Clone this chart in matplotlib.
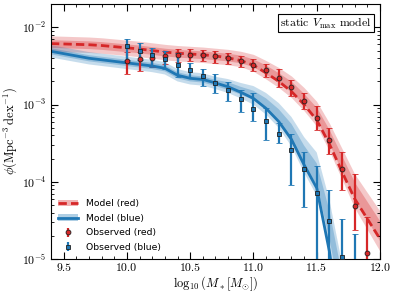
import matplotlib
matplotlib.use('Agg')
import matplotlib.pyplot as plt
import numpy as np
from matplotlib.patches import Patch
from matplotlib.lines import Line2D

plt.rcParams['font.family'] = 'serif'
plt.rcParams['font.serif'] = ['cmr10']
plt.rcParams['mathtext.fontset'] = 'cm'
plt.rcParams['axes.formatter.use_mathtext'] = True

# model grid (log10 M*)
m_grid = [9.4, 9.5, 9.6, 9.7, 9.8, 9.9, 10.0, 10.1, 10.2, 10.3, 10.4, 10.5, 10.6,
          10.7, 10.8, 10.9, 11.0, 11.1, 11.2, 11.3, 11.4, 11.5, 11.6, 11.7, 11.8, 11.9, 12.0]

# log10 phi of the models
red_model = [-2.21, -2.215, -2.22, -2.225, -2.235, -2.25, -2.265, -2.28, -2.30, -2.32, -2.335,
             -2.345, -2.355, -2.37, -2.395, -2.43, -2.49, -2.59, -2.70, -2.83, -3.00, -3.20,
             -3.51, -3.87, -4.22, -4.48, -4.74]
blue_model = [-2.31, -2.34, -2.37, -2.40, -2.42, -2.44, -2.46, -2.48, -2.50, -2.53, -2.62,
              -2.66, -2.675, -2.72, -2.77, -2.84, -2.92, -3.05, -3.22, -3.45, -3.78, -4.08,
              -4.90, -6.0, -7.0, -8.0, -9.0]

# band offsets (dex): shift of the band centre, inner and outer half widths
red_shift = [0, 0, 0, 0, 0, 0, 0, 0, 0, 0, 0, 0, 0, 0, 0.01, 0.02, 0.03, 0.04, 0.05, 0.06,
             0.07, 0.08, 0.09, 0.10, 0.10, 0.10, 0.10]
red_w1 = [0.05, 0.05, 0.05, 0.05, 0.05, 0.05, 0.05, 0.05, 0.05, 0.05, 0.05, 0.05, 0.05, 0.05,
          0.05, 0.05, 0.05, 0.06, 0.06, 0.07, 0.07, 0.08, 0.09, 0.10, 0.11, 0.12, 0.13]
red_w2 = [0.10, 0.10, 0.10, 0.10, 0.10, 0.10, 0.10, 0.10, 0.10, 0.10, 0.10, 0.10, 0.10, 0.10,
          0.10, 0.10, 0.11, 0.12, 0.13, 0.14, 0.15, 0.16, 0.18, 0.20, 0.22, 0.24, 0.26]
blue_shift = [0, 0, 0, 0, 0, 0, 0, 0, 0, 0, 0, 0, 0, 0, 0.01, 0.02, 0.04, 0.06, 0.08, 0.10,
              0.13, 0.18, 0.35, 0.6, 0.6, 0.6, 0.6]
blue_w1 = [0.04, 0.04, 0.04, 0.04, 0.04, 0.04, 0.04, 0.04, 0.04, 0.04, 0.04, 0.04, 0.04, 0.04,
           0.05, 0.05, 0.06, 0.07, 0.08, 0.10, 0.12, 0.14, 0.18, 0.2, 0.2, 0.2, 0.2]
blue_w2 = [0.08, 0.08, 0.08, 0.08, 0.08, 0.08, 0.08, 0.08, 0.08, 0.08, 0.08, 0.08, 0.08, 0.08,
           0.09, 0.10, 0.12, 0.14, 0.16, 0.19, 0.23, 0.28, 0.32, 0.35, 0.35, 0.35, 0.35]

# observations
m_obs = [10.0, 10.1, 10.2, 10.3, 10.4, 10.5, 10.6, 10.7, 10.8, 10.9,
         11.0, 11.1, 11.2, 11.3, 11.4, 11.5, 11.6, 11.7, 11.8, 11.9]
red_obs = [3.67e-3, 3.87e-3, 4.07e-3, 4.2e-3, 4.4e-3, 4.45e-3, 4.35e-3, 4.2e-3, 3.97e-3, 3.67e-3,
           3.3e-3, 2.8e-3, 2.24e-3, 1.67e-3, 1.12e-3, 6.7e-4, 3.5e-4, 1.45e-4, 4.9e-5, 1.2e-5]
red_hi = [4.8e-3, 4.8e-3, 5.05e-3, 5.0e-3, 5.2e-3, 5.2e-3, 5.05e-3, 4.9e-3, 4.6e-3, 4.27e-3,
          3.9e-3, 3.35e-3, 2.85e-3, 2.1e-3, 1.42e-3, 9.5e-4, 5.0e-4, 2.4e-4, 1.26e-4, 3.5e-5]
red_lo = [2.47e-3, 2.75e-3, 3.08e-3, 3.4e-3, 3.6e-3, 3.7e-3, 3.65e-3, 3.5e-3, 3.32e-3, 3.07e-3,
          2.7e-3, 2.25e-3, 1.7e-3, 1.29e-3, 8.7e-4, 4.7e-4, 2.3e-4, 7.9e-5, 2.4e-5, 1e-7]
blue_obs = [5.7e-3, 4.9e-3, 4.35e-3, 3.9e-3, 3.26e-3, 2.8e-3, 2.33e-3, 1.9e-3, 1.54e-3, 1.17e-3,
            8.7e-4, 6.2e-4, 4.2e-4, 2.6e-4, 1.45e-4, 7.1e-5, 3.1e-5, 1.07e-5, 5e-6, np.nan]
blue_hi = [7.1e-3, 6.2e-3, 5.47e-3, 4.9e-3, 4.6e-3, 3.47e-3, 2.93e-3, 2.46e-3, 1.97e-3, 1.55e-3,
           1.4e-3, 9.0e-4, 5.8e-4, 4.2e-4, 2.41e-4, 1.62e-4, 7.9e-5, 3.3e-5, 2.1e-5, np.nan]
blue_lo = [3.8e-3, 3.75e-3, 3.08e-3, 2.9e-3, 2.3e-3, 2.2e-3, 1.73e-3, 1.42e-3, 1.11e-3, 7.9e-4,
           6.1e-4, 3.5e-4, 3.2e-4, 9.1e-5, 4.7e-5, 1e-7, 1e-7, 1e-7, 1e-7, np.nan]

red = '#d62728'
blue = '#1f77b4'

fig = plt.figure(figsize=(3.95, 2.94), dpi=100)
ax = fig.add_axes([0.129, 0.119, 0.833, 0.867])

mg = np.array(m_grid)
for model, shift, w1, w2, col, ls in [(red_model, red_shift, red_w1, red_w2, red, '--'),
                                      (blue_model, blue_shift, blue_w1, blue_w2, blue, '-')]:
    c = np.array(model) + np.array(shift)
    ax.fill_between(mg, 10**(c - np.array(w2)), 10**(c + np.array(w2)),
                    color=col, alpha=0.25, lw=0)
    ax.fill_between(mg, 10**(c - np.array(w1)), 10**(c + np.array(w1)),
                    color=col, alpha=0.3, lw=0)
    if ls == '--':
        ax.plot(mg, 10**np.array(model), color=col, lw=2, ls=(0, (3, 1.5)))
    else:
        ax.plot(mg, 10**np.array(model), color=col, lw=2, ls='-')

mo = np.array(m_obs)
for val, hi, lo, col, mk in [(red_obs, red_hi, red_lo, red, 'o'),
                             (blue_obs, blue_hi, blue_lo, blue, 's')]:
    v = np.array(val)
    yerr = [v - np.array(lo), np.array(hi) - v]
    ax.errorbar(mo, v, yerr=yerr, fmt=mk, color=col, ms=3.5, mec='#202020', mew=0.6,
                elinewidth=1.6, capsize=2, capthick=1.2, zorder=5)

ax.set_yscale('log')
ax.set_xlim(9.4, 12.0)
ax.set_ylim(1e-5, 2e-2)
ax.set_xticks([9.5, 10.0, 10.5, 11.0, 11.5, 12.0])
ax.set_xticklabels(['9.5', '10.0', '10.5', '11.0', '11.5', '12.0'])
ax.xaxis.set_minor_locator(matplotlib.ticker.MultipleLocator(0.1))
ax.tick_params(which='both', direction='in', top=True, right=True, labelsize=8.5)
ax.tick_params(which='major', length=5, width=0.8)
ax.tick_params(which='minor', length=2.5, width=0.6)
ax.set_xlabel(r'$\log_{10}(M_*[M_{\odot}])$', fontsize=9, labelpad=1)
ax.set_ylabel(r'$\phi(\mathrm{Mpc}^{-3}\,\mathrm{dex}^{-1})$', fontsize=9, labelpad=2)

ax.text(0.975, 0.955, r'static $V_{\max}$ model', transform=ax.transAxes, ha='right',
        va='top', fontsize=8.5,
        bbox=dict(boxstyle='square,pad=0.15', fc='white', ec='black', lw=0.8))

h_red = (Patch(color=red, alpha=0.35, lw=0), Line2D([], [], color=red, lw=2, ls=(0, (3, 1.5))))
h_blue = (Patch(color=blue, alpha=0.35, lw=0), Line2D([], [], color=blue, lw=2))
h_ored = ax.errorbar([], [], yerr=[], fmt='o', color=red, ms=3.5, mec='#202020', mew=0.6,
                     elinewidth=1.6, capsize=2)
h_oblue = ax.errorbar([], [], yerr=[], fmt='s', color=blue, ms=3.5, mec='#202020', mew=0.6,
                      elinewidth=1.6, capsize=2)
ax.legend([h_red, h_blue, h_ored, h_oblue],
          ['Model (red)', 'Model (blue)', 'Observed (red)', 'Observed (blue)'],
          loc='lower left', frameon=False, prop={'family': 'DejaVu Sans', 'size': 6.7},
          handlelength=2.2, labelspacing=0.6, borderaxespad=0.35)

fig.savefig('out.png', dpi=100)
